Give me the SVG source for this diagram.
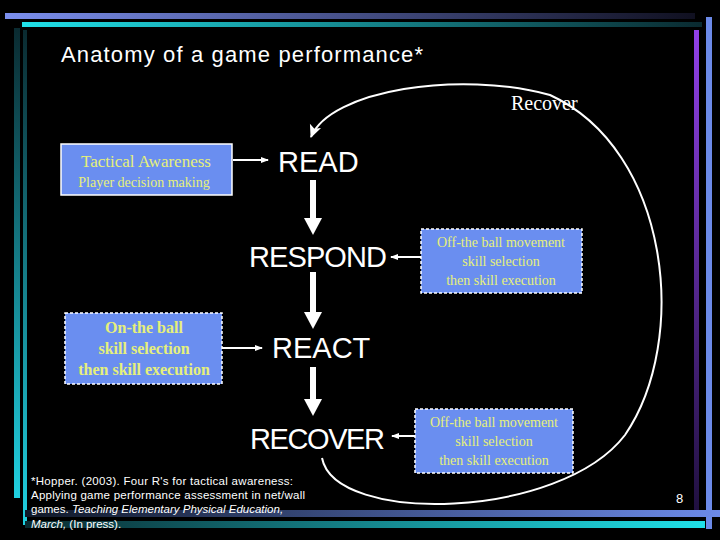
<svg xmlns="http://www.w3.org/2000/svg" width="720" height="540" viewBox="0 0 720 540">
<defs>
<linearGradient id="gb" x1="0" x2="1"><stop offset="0" stop-color="#7b8fee"/><stop offset="1" stop-color="#101020"/></linearGradient>
<linearGradient id="gc" x1="0" x2="1"><stop offset="0" stop-color="#20e0e8"/><stop offset="1" stop-color="#0a2a30"/></linearGradient>
<linearGradient id="gbb" x1="0" x2="1"><stop offset="0" stop-color="#101828"/><stop offset="1" stop-color="#6c8ae8"/></linearGradient>
<linearGradient id="gcb" x1="0" x2="1"><stop offset="0" stop-color="#0a2a30"/><stop offset="1" stop-color="#20e0e8"/></linearGradient>
<linearGradient id="gv" x1="0" y1="0" x2="0" y2="1"><stop offset="0" stop-color="#0a2a30"/><stop offset="1" stop-color="#20d0e0"/></linearGradient>
<linearGradient id="gp" x1="0" y1="0" x2="0" y2="1"><stop offset="0" stop-color="#9040e8"/><stop offset="1" stop-color="#201040"/></linearGradient>
<marker id="sm" markerWidth="8" markerHeight="8" refX="7" refY="4" orient="auto" markerUnits="userSpaceOnUse"><path d="M0,1 L8,4 L0,7 Z" fill="#fff"/></marker>
<marker id="cm" markerWidth="14" markerHeight="14" refX="12" refY="7" orient="auto" markerUnits="userSpaceOnUse"><path d="M0,1 L13,7 L0,13 L3,7 Z" fill="#fff"/></marker>
</defs>
<style>
.box{fill:#6a8ef0;stroke:#fff;stroke-width:1.5}
.dash{stroke-dasharray:3,2}
.bt{font-family:"Liberation Serif",serif;fill:#e6f07a;text-anchor:middle}
.big{font-family:"Liberation Sans",Arial,sans-serif;fill:#fff;font-size:29px}
.thin{stroke:#fff;stroke-width:2;fill:none;marker-end:url(#sm)}
</style>
<rect width="720" height="540" fill="#000"/>
<g id="decor">
<rect x="5" y="13" width="690" height="6" fill="url(#gb)"/>
<rect x="22" y="22" width="680" height="5" fill="url(#gc)"/>
<rect x="14" y="28" width="6" height="470" fill="url(#gv)"/>
<rect x="23" y="30" width="4" height="495" fill="url(#gv)"/>
<rect x="706" y="17" width="6" height="512" fill="#6c8ae8"/>
<rect x="694" y="30" width="5" height="480" fill="url(#gp)"/>
<rect x="25" y="510" width="695" height="7" fill="url(#gbb)"/>
<rect x="25" y="521" width="680" height="7" fill="url(#gcb)"/>
</g>
<text x="61" y="62" font-family="Liberation Sans,Arial,sans-serif" font-size="22" fill="#fff" textLength="362">Anatomy of a game performance*</text>
<g id="connectors">
<path d="M322,458 C335,525 560,520 625,435 C690,340 670,150 550,95 C460,70 330,90 311,137" fill="none" stroke="#fff" stroke-width="2" marker-end="url(#cm)"/>
<g fill="#fff">
<rect x="310" y="180" width="6" height="40"/><path d="M304,218 L322,218 L313,235 Z"/>
<rect x="310" y="272" width="6" height="42"/><path d="M304,312 L322,312 L313,329 Z"/>
<rect x="310" y="367" width="6" height="34"/><path d="M304,399 L322,399 L313,416 Z"/>
</g>
<line x1="233" y1="160" x2="268" y2="160" class="thin"/>
<line x1="222" y1="348" x2="262" y2="348" class="thin"/>
<line x1="421" y1="257" x2="391" y2="257" class="thin"/>
<line x1="415" y1="436" x2="392" y2="436" class="thin"/>
</g>
<g id="tactical">
<rect x="61" y="144" width="171" height="51" class="box"/>
<text x="146" y="167" class="bt" font-size="17">Tactical Awareness</text>
<text x="144" y="187" class="bt" font-size="14">Player decision making</text>
</g>
<g id="onball">
<rect x="65" y="313" width="157" height="71" class="box dash"/>
<text x="144" y="333" class="bt" font-size="16" font-weight="bold">On-the ball</text>
<text x="144" y="354" class="bt" font-size="16" font-weight="bold">skill selection</text>
<text x="144" y="375" class="bt" font-size="16" font-weight="bold">then skill execution</text>
</g>
<g id="off1">
<rect x="421" y="229" width="161" height="64" class="box dash"/>
<text x="501" y="247" class="bt" font-size="14">Off-the ball movement</text>
<text x="501" y="266" class="bt" font-size="14">skill selection</text>
<text x="501" y="285" class="bt" font-size="14">then skill execution</text>
</g>
<g id="off2">
<rect x="415" y="409" width="158" height="64" class="box dash"/>
<text x="494" y="427" class="bt" font-size="14">Off-the ball movement</text>
<text x="494" y="446" class="bt" font-size="14">skill selection</text>
<text x="494" y="465" class="bt" font-size="14">then skill execution</text>
</g>
<g id="read"><text x="278" y="172" class="big">READ</text></g>
<g id="respond"><text x="249" y="267" class="big" textLength="138">RESPOND</text></g>
<g id="react"><text x="272" y="358" class="big">REACT</text></g>
<g id="recover"><text x="250" y="449" class="big" textLength="135">RECOVER</text></g>
<text x="511" y="110" font-family="Liberation Serif,serif" font-size="20" fill="#fff">Recover</text>
<g font-family="Liberation Sans,Arial,sans-serif" font-size="11.5" fill="#fff">
<text x="31" y="485" textLength="262">*Hopper. (2003). Four R's for tactical awareness:</text>
<text x="31" y="499" textLength="274">Applying game performance assessment in net/wall</text>
<text x="31" y="513">games. <tspan font-style="italic">Teaching Elementary Physical Education,</tspan></text>
<text x="31" y="528"><tspan font-style="italic">March,</tspan> (In press).</text>
</g>
<text x="676" y="503" font-family="Liberation Sans,Arial,sans-serif" font-size="13" fill="#fff">8</text>
</svg>
